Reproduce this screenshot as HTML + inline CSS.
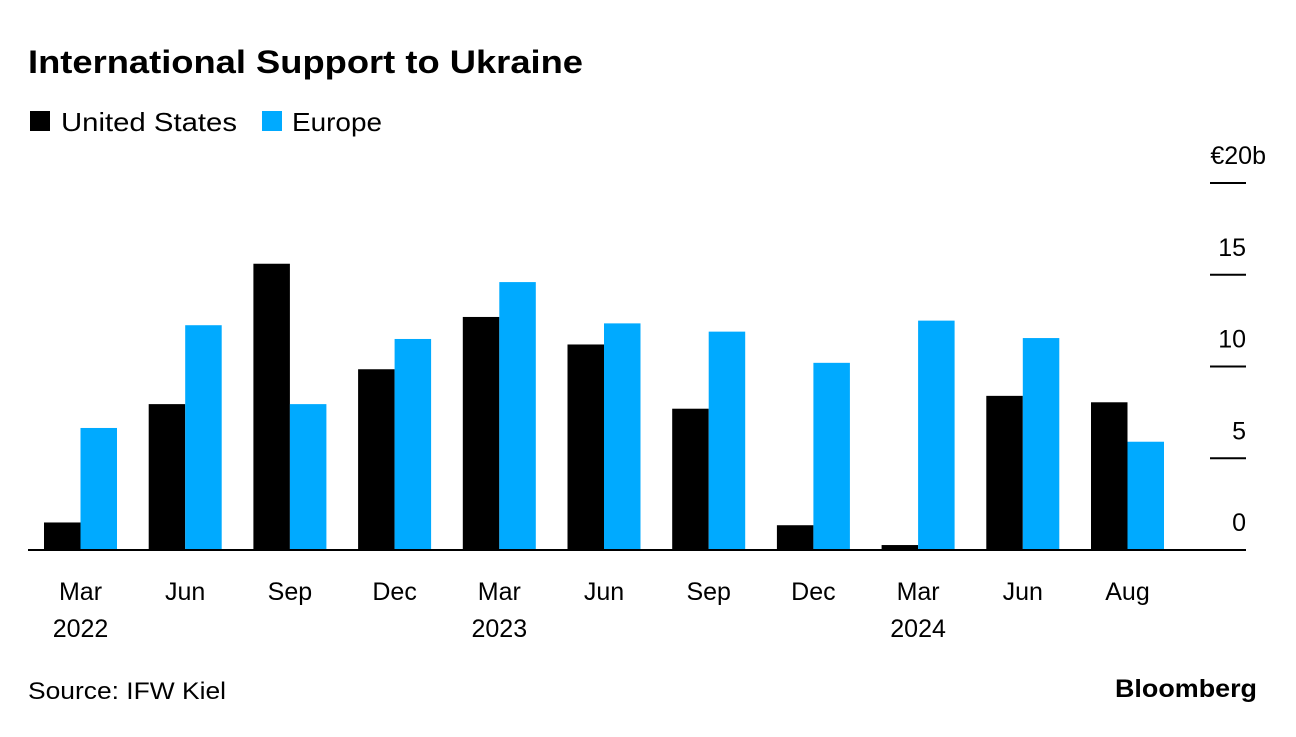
<!DOCTYPE html>
<html><head><meta charset="utf-8"><style>
body{margin:0;background:#fff;font-family:"Liberation Sans",Arial,sans-serif;}
svg text{font-family:"Liberation Sans",Arial,sans-serif;}
</style></head><body>
<svg id="chart" width="1296" height="732" xmlns="http://www.w3.org/2000/svg">
<text x="28" y="73" font-size="32" font-weight="bold" fill="#000" textLength="555" lengthAdjust="spacingAndGlyphs">International Support to Ukraine</text>
<g>
<rect x="30" y="111" width="20" height="20" fill="#000"/>
<text x="61" y="131" font-size="26" fill="#000" textLength="176" lengthAdjust="spacingAndGlyphs">United States</text>
<rect x="262" y="111" width="20" height="20" fill="#00aaff"/>
<text x="292" y="131" font-size="26" fill="#000" textLength="90" lengthAdjust="spacingAndGlyphs">Europe</text>
</g>
<g id="plot"></g>
<text x="28" y="699" font-size="24" fill="#000" textLength="198" lengthAdjust="spacingAndGlyphs">Source: IFW Kiel</text>
<text x="1115" y="697" font-size="25" font-weight="bold" fill="#000" textLength="142" lengthAdjust="spacingAndGlyphs">Bloomberg</text>
</svg>
<script>
const categories=["Mar","Jun","Sep","Dec","Mar","Jun","Sep","Dec","Mar","Jun","Aug"];
const years=["2022","","","","2023","","","","2024","",""];
const usValues=[1.5,7.95,15.6,9.85,12.7,11.2,7.7,1.35,0.27,8.4,8.05];
const europeValues=[6.65,12.25,7.95,11.5,14.6,12.35,11.9,10.2,12.5,11.55,5.9];
const yTicks=[0,5,10,15,20];
const yTickLabels=["0","5","10","15","€20b"];

const NS="http://www.w3.org/2000/svg";
const g=document.getElementById('plot');
const y0=550,pxPer=18.35;
const yScale=v=>y0-v*pxPer;
const groupX=i=>44+i*104.7;
const bw=36.5;
function mk(tag,attrs){const e=document.createElementNS(NS,tag);for(const k in attrs)e.setAttribute(k,attrs[k]);g.appendChild(e);return e;}
yTicks.forEach((t,i)=>{
  if(t!==0){const l=mk('line',{x1:1210,x2:1246,y1:yScale(t),y2:yScale(t),stroke:'#000','stroke-width':2});
  
  }
  const tx=mk('text',{x:1246,y:yScale(t)-19,'font-size':25,'text-anchor':'end',fill:'#000'});
  if(t===20)tx.setAttribute('x',1266);
  tx.textContent=yTickLabels[i];
  
  
});
categories.forEach((c,i)=>{
  const x=groupX(i);
  const b1=mk('rect',{x:x,y:yScale(usValues[i]),width:bw,height:usValues[i]*pxPer,fill:'#000'});
  
  
  const b2=mk('rect',{x:x+bw,y:yScale(europeValues[i]),width:bw,height:europeValues[i]*pxPer,fill:'#00aaff'});
  
  
  const t=mk('text',{x:x+bw,y:600,'font-size':25,'text-anchor':'middle',fill:'#000'});
  t.textContent=c;
  
  
  if(years[i]){const t2=mk('text',{x:x+bw,y:637,'font-size':25,'text-anchor':'middle',fill:'#000'});
  t2.textContent=years[i];
  
  }
});
const base=mk('line',{x1:28,x2:1246,y1:y0,y2:y0,stroke:'#000','stroke-width':2});


</script>
</body></html>
